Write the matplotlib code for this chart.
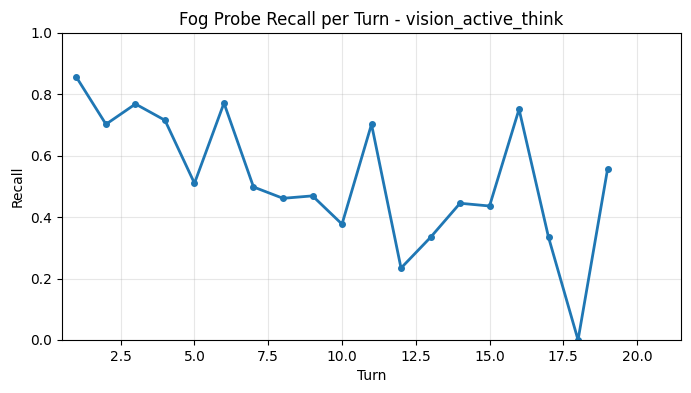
import matplotlib
matplotlib.use("Agg")
import matplotlib.pyplot as plt

# Recall по ходам
turns = list(range(1, 20))
recall = [0.855, 0.702, 0.768, 0.715, 0.510, 0.771, 0.498, 0.461, 0.469, 0.377,
          0.702, 0.234, 0.334, 0.445, 0.436, 0.751, 0.334, 0.0, 0.556]

fig = plt.figure(figsize=(6.91, 3.93), dpi=100)
ax = fig.add_axes([0.0893, 0.1349, 0.8967, 0.7819])
ax.plot(turns, recall, marker='o', linewidth=2, markersize=4, color='#1f77b4')
ax.set_xlim(0.5, 21.5)
ax.set_ylim(0, 1)
ax.set_xlabel('Turn')
ax.set_ylabel('Recall')
ax.set_title('Fog Probe Recall per Turn - vision_active_think')
ax.grid(True, alpha=0.3)

fig.savefig('out.png', dpi=100)
